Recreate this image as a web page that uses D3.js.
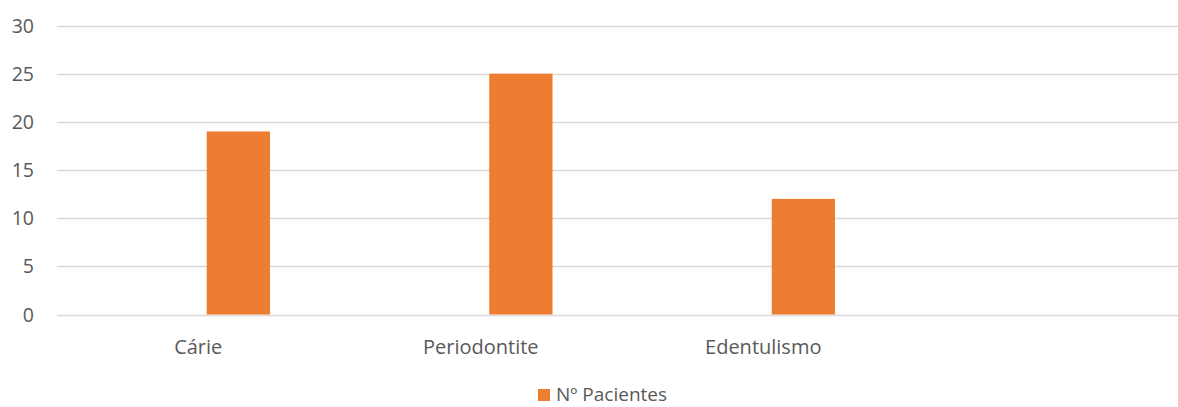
<!DOCTYPE html>
<html>
<head>
<meta charset="utf-8">
<script src="https://cdn.jsdelivr.net/npm/d3@7/dist/d3.min.js"></script>
<style>
  html, body { margin: 0; padding: 0; background: #fff; }
  svg { display: block; }
  text { font-family: "Open Sans", "Noto Sans", sans-serif; fill: #595959; }
</style>
</head>
<body>
<svg id="chart" width="1178" height="407"></svg>
<script>
const categories = ["Cárie", "Periodontite", "Edentulismo", ""];
const values = [19, 25, 12, null];
const yTicks = [0, 5, 10, 15, 20, 25, 30];
const seriesName = "Nº Pacientes";

const W = 1178, H = 407;
const plot = { left: 57, right: 1187, top: 25.5, bottom: 314.5 };
const gridRight = 1178;

const svg = d3.select("#chart");

const x = d3.scaleBand().domain(categories).range([plot.left, plot.right]).padding(0);
const y = d3.scaleLinear().domain([0, 30]).range([plot.bottom, plot.top]);

// gridlines
svg.append("g").selectAll("line").data(yTicks).join("line")
  .attr("x1", plot.left).attr("x2", gridRight)
  .attr("y1", d => Math.round(y(d)) + 0.5).attr("y2", d => Math.round(y(d)) + 0.5)
  .attr("stroke", "#d9d9d9").attr("stroke-width", 1.3);

// y tick labels
svg.append("g").selectAll("text").data(yTicks).join("text")
  .attr("x", 34).attr("y", d => y(d)).attr("dy", "0.36em")
  .attr("text-anchor", "end").attr("font-size", 19.5)
  .text(d => d);

// bars
const bw = x.bandwidth();
const data = categories.map((c, i) => ({ c, v: values[i] })).filter(d => d.v != null);
svg.append("g").selectAll("rect").data(data).join("rect")
  .attr("x", d => x(d.c) + bw * 0.530)
  .attr("width", bw * 0.224)
  .attr("y", d => y(d.v))
  .attr("height", d => y(0) - y(d.v))
  .attr("fill", "#ed7d31");

// category labels
svg.append("g").selectAll("text").data(categories.filter(c => c)).join("text")
  .attr("x", d => x(d) + bw / 2).attr("y", 354)
  .attr("text-anchor", "middle").attr("font-size", 20)
  .text(d => d);

// legend
const lg = svg.append("g");
lg.append("rect").attr("x", 538).attr("y", 389).attr("width", 12).attr("height", 12).attr("fill", "#ed7d31");
lg.append("text").attr("x", 556).attr("y", 400.5).attr("font-size", 19).text(seriesName);
</script>
</body>
</html>
